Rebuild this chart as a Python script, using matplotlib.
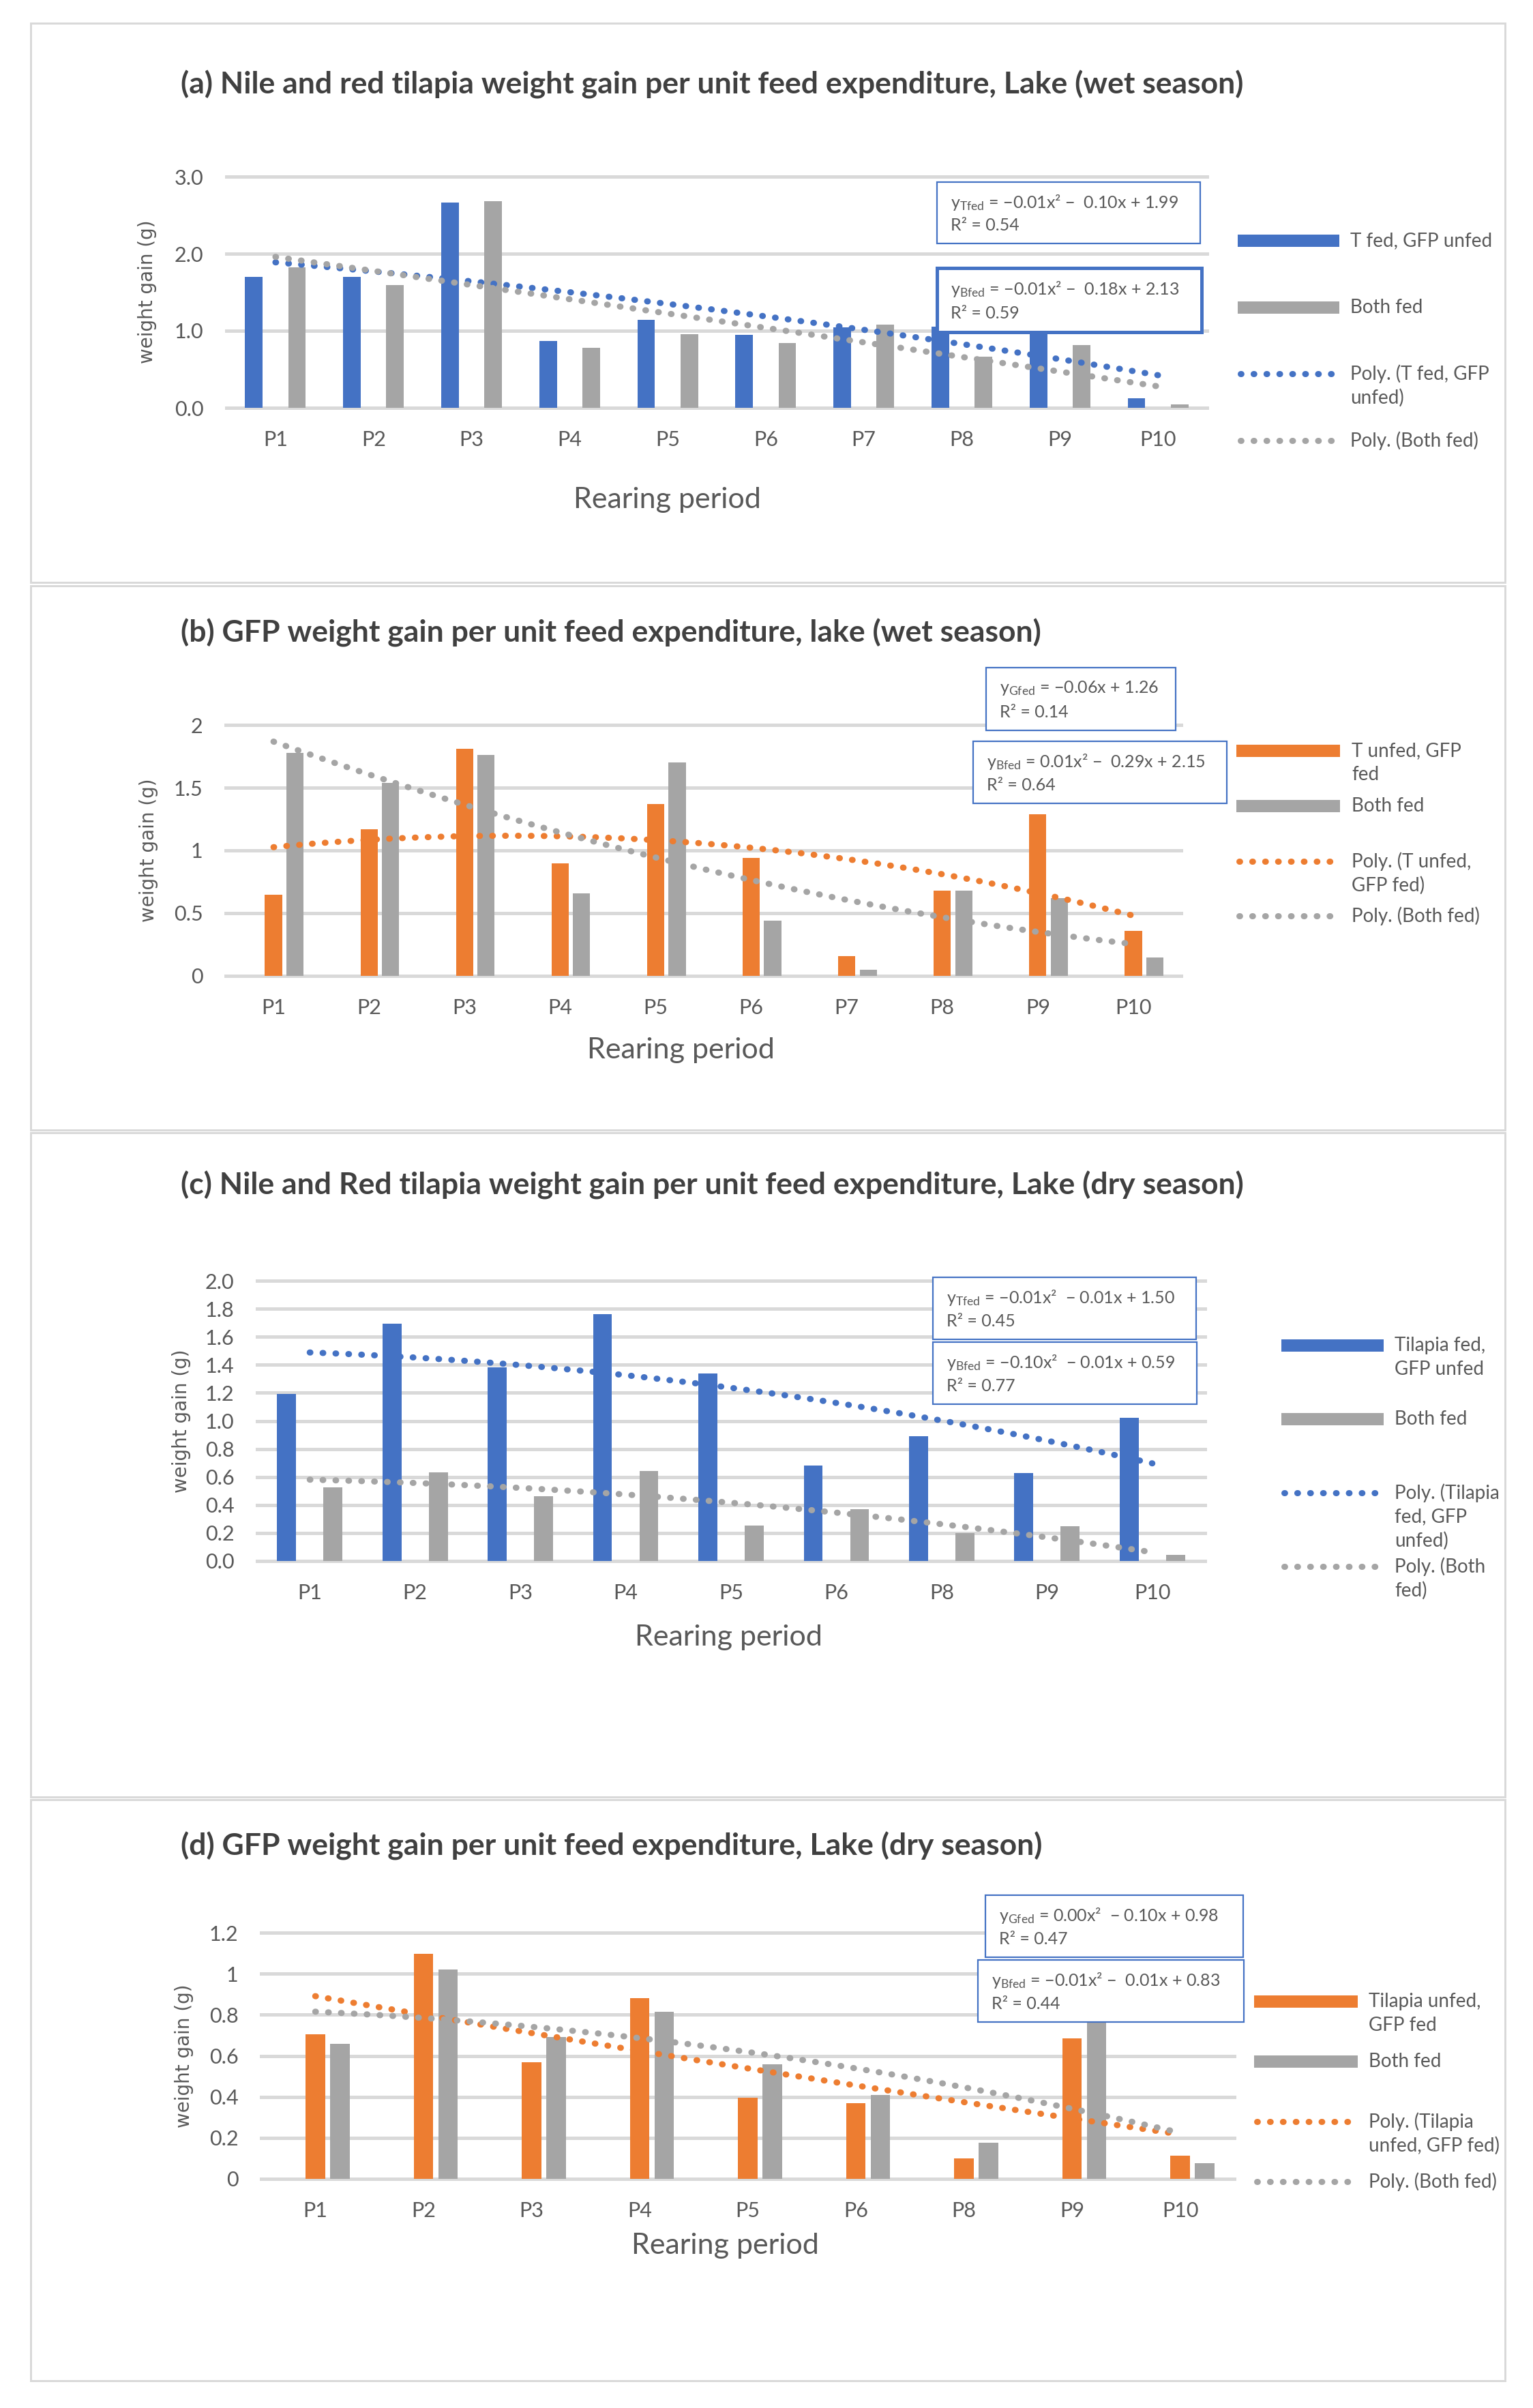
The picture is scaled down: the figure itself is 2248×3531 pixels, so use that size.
import numpy as np
import matplotlib
matplotlib.use('Agg')
import matplotlib.pyplot as plt
from matplotlib.patches import Rectangle
from matplotlib.lines import Line2D
from matplotlib.ticker import FuncFormatter

plt.rcParams['font.family'] = ['Lato', 'DejaVu Sans']
plt.rcParams['mathtext.fontset'] = 'custom'
plt.rcParams['mathtext.rm'] = 'Lato'
plt.rcParams['mathtext.it'] = 'Lato:italic'
plt.rcParams['mathtext.bf'] = 'Lato:bold'

# ---------------- data ----------------
periods_ab = ['P1', 'P2', 'P3', 'P4', 'P5', 'P6', 'P7', 'P8', 'P9', 'P10']
periods_cd = ['P1', 'P2', 'P3', 'P4', 'P5', 'P6', 'P8', 'P9', 'P10']

a_tfed = [1.70, 1.70, 2.66, 0.87, 1.14, 0.95, 1.04, 1.05, 1.00, 0.12]
a_both = [1.82, 1.59, 2.68, 0.78, 0.96, 0.84, 1.08, 0.66, 0.81, 0.04]

b_gfed = [0.645, 1.17, 1.81, 0.895, 1.37, 0.94, 0.16, 0.68, 1.29, 0.36]
b_both = [1.775, 1.54, 1.76, 0.655, 1.70, 0.44, 0.05, 0.68, 0.62, 0.145]

c_tfed = [1.19, 1.695, 1.38, 1.76, 1.34, 0.68, 0.89, 0.63, 1.02]
c_both = [0.527, 0.634, 0.464, 0.644, 0.255, 0.37, 0.20, 0.25, 0.045]

d_gfed = [0.704, 1.096, 0.567, 0.88, 0.394, 0.368, 0.099, 0.684, 0.112]
d_both = [0.657, 1.019, 0.69, 0.813, 0.56, 0.41, 0.175, 0.797, 0.075]

titles = [
    '(a) Nile and red tilapia weight gain per unit feed expenditure, Lake (wet season)',
    '(b) GFP weight gain per unit feed expenditure, lake (wet season)',
    '(c) Nile and Red tilapia weight gain per unit feed expenditure, Lake (dry season)',
    '(d) GFP weight gain per unit feed expenditure, Lake (dry season)',
]
yticks_a = [0, 1, 2, 3]
yticks_b = [0, 0.5, 1, 1.5, 2]
yticks_c = [0, 0.2, 0.4, 0.6, 0.8, 1.0, 1.2, 1.4, 1.6, 1.8, 2.0]
yticks_d = [0, 0.2, 0.4, 0.6, 0.8, 1, 1.2]

# ---------------- style ----------------
W, H = 2248, 3531
BLUE = '#4472C4'; ORANGE = '#ED7D31'; GRAY = '#A5A5A5'
GRID = '#D9D9D9'; TXT = '#595959'; TITLE = '#404040'
DOTS = (0, (0.1, 2.0))

fig = plt.figure(figsize=(W / 100, H / 100), dpi=100)


def fx(px):
    return px / W


def fy(py):
    return 1 - py / H


def pxw(px):
    return px * 72 / 100.0


fmt1 = FuncFormatter(lambda v, p: f'{v:.1f}')
fmtg = FuncFormatter(lambda v, p: f'{v:g}')


def panel(title, box, axbox, cats, s1, s2, col1, offs, ymax, yticks, fmt, title_y,
          ylabel_xy, xlabel_xy, eqboxes, legend):
    # panel frame
    bx0, by0, bx1, by1 = box
    fig.add_artist(Rectangle((fx(bx0), fy(by1)), fx(bx1) - fx(bx0), (by1 - by0) / H,
                             transform=fig.transFigure, facecolor='none',
                             edgecolor=GRID, lw=pxw(3)))
    x0, x1, yt, yb = axbox
    ax = fig.add_axes([fx(x0), fy(yb), fx(x1) - fx(x0), (yb - yt) / H])
    n = len(cats)
    x = np.arange(n)
    ax.bar(x + offs[0], s1, width=0.18, color=col1, zorder=2)
    ax.bar(x + offs[1], s2, width=0.18, color=GRAY, zorder=2)
    xx = np.arange(1, n + 1)
    xf = np.linspace(1, n, 300)
    for s, c in ((s1, col1), (s2, GRAY)):
        p = np.polyfit(xx, s, 2)
        ax.plot(xf - 1, np.polyval(p, xf), color=c, lw=pxw(9), ls=DOTS,
                dash_capstyle='round', zorder=3)
    for v in yticks:
        ax.axhline(v, color=GRID, lw=pxw(5), zorder=0.5, clip_on=False)
    ax.set_xlim(-0.5, n - 0.5)
    ax.set_ylim(0, ymax)
    ax.set_yticks(yticks)
    ax.yaxis.set_major_formatter(fmt)
    ax.set_xticks(x)
    ax.set_xticklabels(cats)
    for sp in ax.spines.values():
        sp.set_visible(False)
    ax.tick_params(axis='both', length=0, labelsize=22, labelcolor=TXT)
    ax.tick_params(axis='y', pad=24)
    ax.tick_params(axis='x', pad=24)
    # texts
    fig.text(fx(265), fy(title_y), title, fontsize=32, fontweight='bold',
             color=TITLE, ha='left', va='center')
    fig.text(fx(ylabel_xy[0]), fy(ylabel_xy[1]), 'weight gain (g)', rotation=90,
             fontsize=20, color=TXT, ha='center', va='center',
             family=['DejaVu Sans'])
    fig.text(fx(xlabel_xy[0]), fy(xlabel_xy[1]), 'Rearing period', fontsize=31,
             color=TXT, ha='center', va='center')
    # equation boxes
    for (ex0, ey0, ex1, ey1, lw, l1, l2) in eqboxes:
        fig.add_artist(Rectangle((fx(ex0), fy(ey1)), fx(ex1) - fx(ex0), (ey1 - ey0) / H,
                                 transform=fig.transFigure, facecolor='white',
                                 edgecolor=BLUE, lw=pxw(lw), zorder=5))
        h = ey1 - ey0
        fig.text(fx(ex0 + 20), fy(ey0 + 0.33 * h), l1, fontsize=18, color=TXT,
                 ha='left', va='center', zorder=6)
        fig.text(fx(ex0 + 20), fy(ey0 + 0.71 * h), l2, fontsize=18, color=TXT,
                 ha='left', va='center', zorder=6)
    # legend
    lx0, lx1, tx, fs, rows = legend
    for kind, c, ly, lines in rows:
        if kind == 'bar':
            fig.add_artist(Rectangle((fx(lx0), fy(ly + 9)), fx(lx1) - fx(lx0), 18 / H,
                                     transform=fig.transFigure, facecolor=c,
                                     edgecolor='none'))
        else:
            fig.add_artist(Line2D([fx(lx0 + 4), fx(lx1 - 4)], [fy(ly), fy(ly)],
                                  transform=fig.transFigure, color=c, lw=pxw(9),
                                  ls=DOTS, dash_capstyle='round'))
        for i, t in enumerate(lines):
            fig.text(fx(tx), fy(ly + 35 * i), t, fontsize=fs, color=TXT,
                     ha='left', va='center')
    return ax


panel(titles[0], (45, 34, 2207, 854), (332, 1770, 259, 598), periods_ab, a_tfed, a_both,
      BLUE, (-0.22, 0.22), 3.0, yticks_a, fmt1, 124, (216, 428), (978, 733),
      [(1374, 267, 1760, 357, 2.2, r'y$_{\mathrm{Tfed}}$ = −0.01x² −  0.10x + 1.99', 'R² = 0.54'),
       (1374, 393, 1762, 487, 5, r'y$_{\mathrm{Bfed}}$ = −0.01x² −  0.18x + 2.13', 'R² = 0.59')],
      (1815, 1964, 1980, 20,
       [('bar', BLUE, 353, ['T fed, GFP unfed']),
        ('bar', GRAY, 451, ['Both fed']),
        ('dot', BLUE, 548, ['Poly. (T fed, GFP', 'unfed)']),
        ('dot', GRAY, 646, ['Poly. (Both fed)'])]))

panel(titles[1], (45, 859, 2207, 1657), (331, 1732, 1063, 1431), periods_ab, b_gfed, b_both,
      ORANGE, (0.0, 0.225), 2.0, yticks_b, fmtg, 928, (218, 1247), (998, 1540),
      [(1446, 979, 1724, 1071, 2.2, r'y$_{\mathrm{Gfed}}$ = −0.06x + 1.26', 'R² = 0.14'),
       (1427, 1087, 1799, 1178, 2.2, r'y$_{\mathrm{Bfed}}$ = 0.01x² −  0.29x + 2.15', 'R² = 0.64')],
      (1813, 1965, 1982, 20,
       [('bar', ORANGE, 1101, ['T unfed, GFP', 'fed']),
        ('bar', GRAY, 1182, ['Both fed']),
        ('dot', ORANGE, 1263, ['Poly. (T unfed,', 'GFP fed)']),
        ('dot', GRAY, 1343, ['Poly. (Both fed)'])]))

panel(titles[2], (45, 1661, 2207, 2635), (377, 1767, 1878, 2289), periods_cd, c_tfed, c_both,
      BLUE, (-0.22, 0.22), 2.0, yticks_c, fmt1, 1738, (266, 2084), (1068, 2401),
      [(1368, 1873, 1754, 1964, 2.2, r'y$_{\mathrm{Tfed}}$ = −0.01x²  − 0.01x + 1.50', 'R² = 0.45'),
       (1368, 1968, 1755, 2059, 2.2, r'y$_{\mathrm{Bfed}}$ = −0.10x²  − 0.01x + 0.59', 'R² = 0.77')],
      (1879, 2029, 2045, 20,
       [('bar', BLUE, 1973, ['Tilapia fed,', 'GFP unfed']),
        ('bar', GRAY, 2081, ['Both fed']),
        ('dot', BLUE, 2189, ['Poly. (Tilapia', 'fed, GFP', 'unfed)']),
        ('dot', GRAY, 2297, ['Poly. (Both', 'fed)'])]))

panel(titles[3], (45, 2639, 2207, 3491), (383, 1810, 2834, 3195), periods_cd, d_gfed, d_both,
      ORANGE, (0.0, 0.227), 1.2, yticks_d, fmtg, 2707, (270, 3015), (1063, 3293),
      [(1445, 2779, 1823, 2870, 2.2, r'y$_{\mathrm{Gfed}}$ = 0.00x²  − 0.10x + 0.98', 'R² = 0.47'),
       (1434, 2874, 1824, 2965, 2.2, r'y$_{\mathrm{Bfed}}$ = −0.01x² −  0.01x + 0.83', 'R² = 0.44')],
      (1839, 1991, 2007, 20,
       [('bar', ORANGE, 2935, ['Tilapia unfed,', 'GFP fed']),
        ('bar', GRAY, 3023, ['Both fed']),
        ('dot', ORANGE, 3111, ['Poly. (Tilapia', 'unfed, GFP fed)']),
        ('dot', GRAY, 3199, ['Poly. (Both fed)'])]))

fig.savefig('out.png', dpi=100, facecolor='white')
